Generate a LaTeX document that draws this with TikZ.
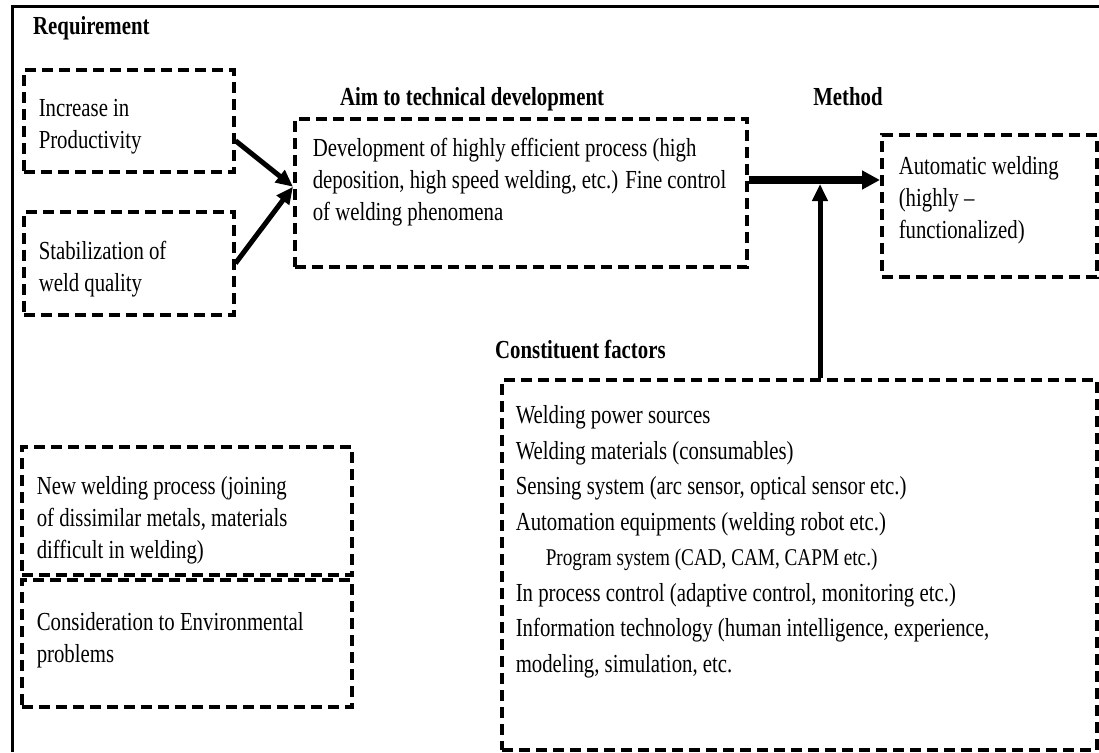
\documentclass[tikz,border=0pt]{standalone}
\usepackage{fontspec}
\setmainfont{Liberation Serif}[FakeStretch=0.8]
\usetikzlibrary{arrows.meta}
\tikzset{dbox/.style={draw, line width=3.5pt, dash pattern=on 11pt off 6pt,
   anchor=north west, inner xsep=15pt, inner ysep=0pt,
   font=\fontsize{26}{32}\selectfont},
 head/.style={font=\bfseries\fontsize{26}{28}\selectfont, inner sep=0pt},
 flow/.style={line width=5pt, -{Triangle[length=17pt,width=15pt]}},
 bigflow/.style={line width=8pt, -{Triangle[length=18pt,width=18pt]}},
 }
% width, height, lines
\newcommand{\boxlines}[3]{\begin{minipage}[c][#2][c]{#1}#3\end{minipage}}

\begin{document}
\begin{tikzpicture}[x=1pt,y=-1pt]
        \useasboundingbox (0,0) rectangle (1099,752);
        % frame, cut at right and bottom
        \draw[line width=3pt] (1099,7) -- (12,7) -- (12,752);
        \node[head, anchor=west] (req) at (33,28) {Requirement};
        \node[dbox] (inc) at (22,68) {\boxlines{180pt}{102pt}{\vspace*{11pt}Increase in\\Productivity}};
        \node[dbox] (stab) at (22,210) {\boxlines{180pt}{103pt}{\vspace*{11pt}Stabilization of\\weld quality}};
        \node[head] (aimt) at (472,99) {Aim to technical development};
        \node[dbox, inner xsep=18pt] (aim) at (293,117)
            {\boxlines{416pt}{148pt}{Development of highly efficient process (high\\deposition, high speed welding, etc.) Fine control\\of welding phenomena\vspace*{22pt}}};
        \node[head] (metht) at (848,97) {Method};
        \node[dbox, inner xsep=17pt] (meth) at (880,133)
            {\boxlines{181pt}{142pt}{Automatic welding\\(highly --\\functionalized)\vspace*{12pt}}};
        \node[head, anchor=west] (constt) at (495,350) {Constituent factors};
        \node[dbox, inner xsep=14pt, inner ysep=26pt, font=\fontsize{26}{35.5}\selectfont]
            (cons) at (500,378) {\begin{minipage}[c][318pt][t]{567pt}
            Welding power sources\\
            Welding materials (consumables)\\
            Sensing system (arc sensor, optical sensor etc.)\\
            Automation equipments (welding robot etc.)\\
            \hspace*{30pt}{\fontsize{24}{35.5}\selectfont Program system (CAD, CAM, CAPM etc.)}\\
            In process control (adaptive control, monitoring etc.)\\
            Information technology (human intelligence, experience,\\
            modeling, simulation, etc.
            \end{minipage}};
        \node[dbox] (newp) at (20,445)
            {\boxlines{300pt}{128pt}{\vspace*{20pt}New welding process (joining\\of dissimilar metals, materials\\difficult in welding)}};
        \node[dbox] (env) at (20,578)
            {\boxlines{300pt}{127pt}{Consideration to Environmental\\problems\vspace*{6pt}}};
        % arrows
        \coordinate (jn) at (820,180);
        \draw[flow] ([yshift=-20pt]inc.east) -- ([yshift=6pt]aim.west);
        \draw[flow] (stab.east) -- ([yshift=6pt]aim.west);
        \draw[bigflow] (aim.east |- jn) -- (meth.west |- jn);
        \draw[flow] (cons.north -| jn) -- ([yshift=-4pt]jn);
\end{tikzpicture}
\end{document}
